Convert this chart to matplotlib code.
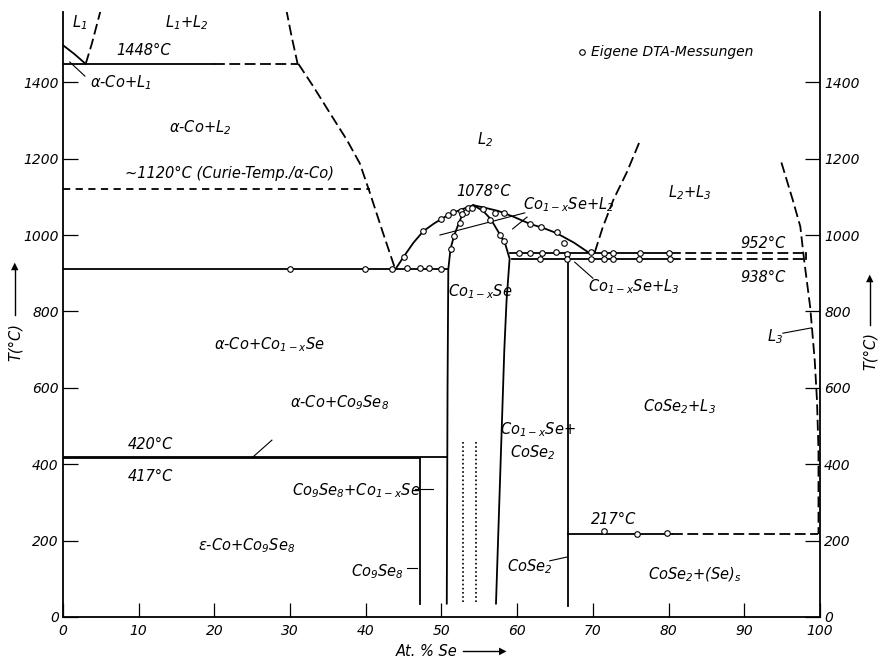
import numpy as np
import matplotlib
matplotlib.use("Agg")
import matplotlib.pyplot as plt

plt.rcParams['font.family'] = ['DejaVu Sans']
plt.rcParams['font.style'] = 'italic'
plt.rcParams['mathtext.fontset'] = 'custom'
plt.rcParams['mathtext.rm'] = 'DejaVu Sans:italic'
plt.rcParams['mathtext.it'] = 'DejaVu Sans:italic'

# --- phase boundaries (x = At.% Se, T in degC) ---
l1_x = [0, 1.5, 3.0]
l1_T = [1497, 1474, 1448]
l1_gap_x = [3.0, 3.8, 4.4, 5.0]
l1_gap_T = [1448, 1500, 1545, 1590]
gap_right_x = [29.5, 30.2, 31.0]
gap_right_T = [1590, 1520, 1448]
l2_liq_x = [31.1, 33.1, 35.3, 37.5, 39.2, 40.5, 42.2, 43.9]
l2_liq_T = [1448, 1388, 1318, 1249, 1188, 1113, 1010, 910]

dome_x = [43.9, 45.0, 46.3, 47.6, 49.0, 50.5, 52.0, 53.2, 54.2, 55.6, 57.5,
          59.5, 61.7, 63.5, 65.2, 67.5, 69.6]
dome_T = [910, 943, 980, 1010, 1030, 1048, 1062, 1071, 1078, 1072, 1063,
          1048, 1029, 1018, 1005, 980, 952]
cose_left_x = [50.7, 50.8, 50.9, 51.2, 51.7, 52.3, 52.8, 53.5, 54.2]
cose_left_T = [35, 600, 910, 965, 1000, 1032, 1055, 1069, 1078]
cose_right_x = [54.2, 55.5, 56.5, 57.7, 58.4, 59.0, 58.6, 58.3, 57.2]
cose_right_T = [1078, 1063, 1042, 1002, 978, 938, 830, 700, 35]

l3_x = [94.9, 96.4, 97.4, 97.9, 98.7, 99.3, 99.6, 99.8, 99.8]
l3_T = [1190, 1092, 1022, 935, 812, 673, 568, 437, 217]
l23_x = [76.1, 74.5, 72.7, 71.3, 70.2]
l23_T = [1241, 1165, 1092, 1020, 952]

T_mono1, T_curie, T_mono2, T_peak = 1448, 1120, 910, 1078
T_952, T_938, T_420, T_417, T_217 = 952, 938, 420, 417, 217
x_co9se8, x_cose2 = 47.2, 66.7
dotted_x = [52.9, 54.6]

# own DTA measurements
dta_x = [30.0, 39.9, 43.4, 45.4, 47.1, 48.3, 50.0,
         45.0, 47.6, 50.0, 50.9, 51.5, 52.6, 53.2, 53.5, 54.0, 55.5, 57.1,
         58.2, 61.7, 63.1, 65.2, 66.2,
         52.7, 52.4, 51.7, 51.2, 56.4, 57.7, 58.3,
         60.2, 61.7, 63.3, 65.1, 66.6, 69.7, 71.5, 72.7, 76.2, 80.1,
         63.0, 66.6, 69.8, 71.5, 72.7, 76.1, 80.2,
         71.5, 75.8, 79.8]
dta_T = [912, 912, 912, 913, 914, 914, 910,
         943, 1010, 1042, 1052, 1061, 1064, 1061, 1070, 1072, 1067, 1058,
         1057, 1029, 1020, 1009, 980,
         1056, 1032, 997, 963, 1039, 1000, 985,
         952, 952, 952, 955, 950, 955, 952, 952, 952, 952,
         938, 936, 938, 938, 938, 938, 936,
         224, 217, 221]

yticks = [0, 200, 400, 600, 800, 1000, 1200, 1400]
xticks = [0, 10, 20, 30, 40, 50, 60, 70, 80, 90, 100]

fig = plt.figure(figsize=(8.82, 6.61), dpi=100)
ax = fig.add_axes([0.0714, 0.0666, 0.8583, 0.9153])
ax.set_xlim(0, 100)
ax.set_ylim(0, 1584)

k = dict(color='black', lw=1.3)
dash = (0, (6, 2.5))
dash_s = (0, (4, 3))

ax.plot(l1_x, l1_T, **k)
ax.plot(l1_gap_x, l1_gap_T, ls=dash, **k)
ax.plot(gap_right_x, gap_right_T, ls=dash, **k)
ax.plot(l2_liq_x, l2_liq_T, ls=dash, **k)
ax.plot([0, 20], [T_mono1, T_mono1], **k)
ax.plot([20, 31], [T_mono1, T_mono1], ls=dash, **k)
ax.plot([0, 40.5], [T_curie, T_curie], ls=dash_s, **k)
ax.plot([0, 50.9], [T_mono2, T_mono2], **k)
ax.plot(dome_x, dome_T, **k)
ax.plot(cose_left_x, cose_left_T, **k)
ax.plot(cose_right_x, cose_right_T, **k)
ax.plot([59.0, 80.2], [T_952, T_952], **k)
ax.plot([59.3, 80.2], [T_938, T_938], **k)
ax.plot([80.2, 98.2], [T_952, T_952], ls=dash, **k)
ax.plot([80.2, 98.2], [T_938, T_938], ls=dash, **k)
ax.plot([98.2, 98.2], [T_938, T_952], **k)
ax.plot([x_cose2, x_cose2], [30, T_938], **k)
ax.plot([x_cose2, 80.5], [T_217, T_217], **k)
ax.plot([80.5, 99.7], [T_217, T_217], ls=dash, **k)
ax.plot([0, 50.7], [T_420, T_420], **k)
ax.plot([0, x_co9se8], [T_417, T_417], **k)
ax.plot([x_co9se8, x_co9se8], [35, T_417], **k)
for dx in dotted_x:
    ax.plot([dx, dx], [40, 460], color='black', lw=1.2, ls=(0, (1, 1.5)))
ax.plot(l3_x, l3_T, ls=dash, **k)
ax.plot(l23_x, l23_T, ls=dash, **k)

ax.plot(dta_x, dta_T, 'o', ms=4, mfc='white', mec='black', mew=0.8, zorder=5)

# leader lines
thin = dict(color='black', lw=0.8)
for (xa, ya), (xb, yb) in [((0.9, 1453), (2.9, 1416)),
                           ((49.8, 1000), (61.0, 1058)),
                           ((59.4, 1016), (61.3, 1047)),
                           ((67.6, 929), (70.0, 887)),
                           ((95.1, 743), (98.9, 757)),
                           ((25.1, 419), (27.6, 463)),
                           ((46.5, 334), (48.9, 334)),
                           ((45.4, 128), (46.8, 128)),
                           ((64.3, 147), (66.6, 157))]:
    ax.plot([xa, xb], [ya, yb], **thin)

fs = 10.5
labels = [
    (2.2, 1557, "$L_1$"),
    (16.4, 1557, "L$_1$+L$_2$"),
    (10.6, 1482, "1448°C"),
    (7.6, 1398, "α-Co+L$_1$"),
    (18.1, 1280, "α-Co+L$_2$"),
    (22.0, 1162, "~1120°C (Curie-Temp./α-Co)"),
    (55.7, 1249, "L$_2$"),
    (55.5, 1113, "1078°C"),
    (66.8, 1079, "Co$_{1-x}$Se+L$_2$"),
    (55.1, 851, "Co$_{1-x}$Se"),
    (75.4, 864, "Co$_{1-x}$Se+L$_3$"),
    (82.8, 1110, "L$_2$+L$_3$"),
    (92.5, 979, "952°C"),
    (92.5, 890, "938°C"),
    (94.1, 733, "L$_3$"),
    (27.3, 712, "α-Co+Co$_{1-x}$Se"),
    (11.5, 452, "420°C"),
    (11.5, 369, "417°C"),
    (36.6, 562, "α-Co+Co$_9$Se$_8$"),
    (38.7, 332, "Co$_9$Se$_8$+Co$_{1-x}$Se"),
    (24.3, 188, "ε-Co+Co$_9$Se$_8$"),
    (41.6, 118, "Co$_9$Se$_8$"),
    (62.7, 490, "Co$_{1-x}$Se+"),
    (62.1, 429, "CoSe$_2$"),
    (61.7, 131, "CoSe$_2$"),
    (81.5, 550, "CoSe$_2$+L$_3$"),
    (72.7, 256, "217°C"),
    (83.5, 110, "CoSe$_2$+(Se)$_s$"),
]
for x, y, s in labels:
    ax.text(x, y, s, fontsize=fs, ha='center', va='center')

ax.plot([68.6], [1479], 'o', ms=4, mfc='white', mec='black', mew=0.8)
ax.text(69.7, 1479, "Eigene DTA-Messungen", fontsize=10, ha='left', va='center')

# axes styling
ax.spines['top'].set_visible(False)
for s in ['left', 'right', 'bottom']:
    ax.spines[s].set_linewidth(1.3)
ax.set_xticks(xticks)
ax.set_xticklabels([str(v) for v in xticks])
ax.set_yticks(yticks)
ax.set_yticklabels([str(v) for v in yticks])
ax.tick_params(axis='x', direction='in', length=10, width=0.9, labelsize=10, pad=5)
ax.tick_params(axis='y', direction='in', length=11, width=0.9, labelsize=10, pad=3,
               right=True, labelright=True)
ax.tick_params(axis='y', which='major', right=True)

# axis titles with arrows
fig.text(427 / 882, 1 - 652 / 661, "At. % Se", fontsize=10.5, ha='center', va='center')
fig.add_artist(plt.Line2D([463 / 882, 500 / 882], [1 - 651 / 661] * 2, color='black', lw=1.0))
fig.text(503 / 882, 1 - 651 / 661, "▶", fontsize=7, ha='center', va='center')

for xc, ytxt, ya, yb in [(15, 342, 315, 268), (870, 351, 325, 280)]:
    fig.text(xc / 882, 1 - ytxt / 661, "T(°C)", fontsize=10.5, rotation=90,
             ha='center', va='center')
    fig.add_artist(plt.Line2D([xc / 882] * 2, [1 - ya / 661, 1 - yb / 661],
                              color='black', lw=1.0))
    fig.text(xc / 882, 1 - (yb - 2) / 661, "▲", fontsize=7, ha='center', va='center')

fig.savefig("out.png", dpi=100)
